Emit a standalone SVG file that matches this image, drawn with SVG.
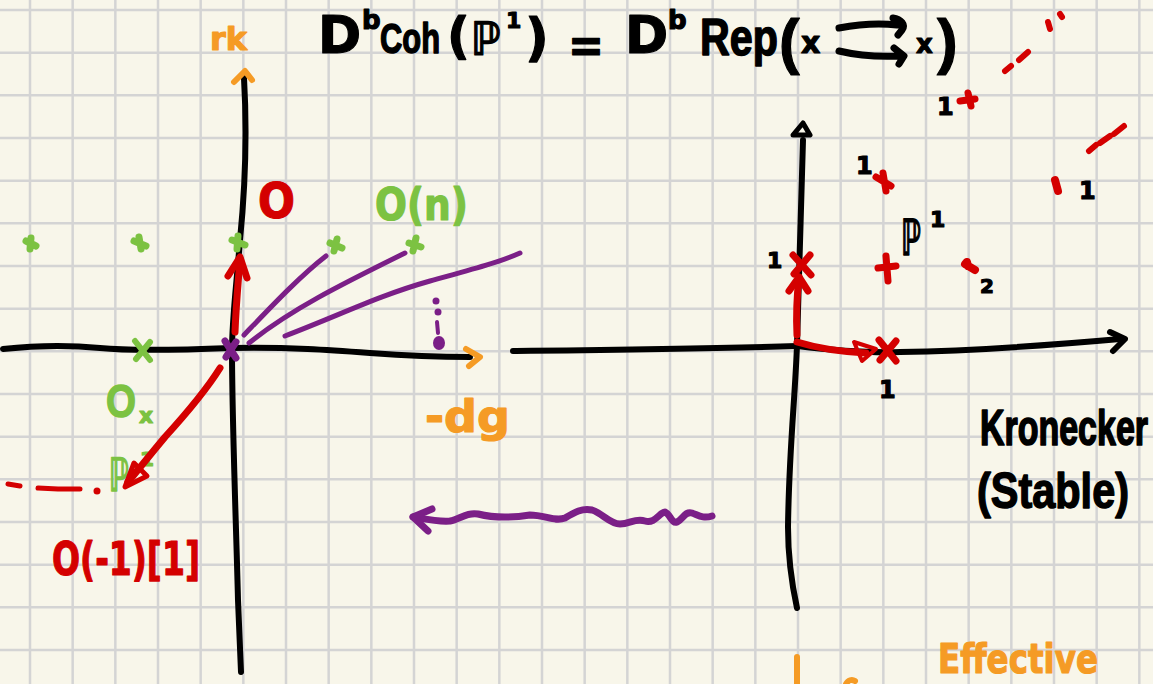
<svg xmlns="http://www.w3.org/2000/svg" width="1153" height="684" viewBox="0 0 1153 684">
<style>
.bg{fill:#f8f6ea}
.grid{stroke:#d4d4d4;stroke-width:2.5;fill:none}
.s{fill:none;stroke-linecap:round;stroke-linejoin:round}
.k{stroke:#000}
.r{stroke:#d40000}
.g{stroke:#7cc242}
.p{stroke:#7b1f87}
.o{stroke:#f59b25}
.t{font-family:"DejaVu Sans","Liberation Sans",sans-serif;font-weight:bold;stroke-linejoin:round;stroke-width:1.2}
.l{font-family:"Liberation Sans","DejaVu Sans",sans-serif}
.tk{fill:#000;stroke:#000}
.tr{fill:#d40000;stroke:#d40000}
.tg{fill:#7cc242;stroke:#7cc242}
.to{fill:#f59b25;stroke:#f59b25}
</style>
<rect class="bg" x="0" y="0" width="1153" height="684"/>
<path class="grid" d="M30 0V684M72.67 0V684M115.33 0V684M158 0V684M200.67 0V684M243.33 0V684M286 0V684M328.67 0V684M371.33 0V684M414 0V684M456.67 0V684M499.33 0V684M542 0V684M584.67 0V684M627.33 0V684M670 0V684M712.67 0V684M755.33 0V684M798 0V684M840.67 0V684M883.33 0V684M926 0V684M968.67 0V684M1011.33 0V684M1054 0V684M1096.67 0V684M1139.33 0V684M0 10H1153M0 52.67H1153M0 95.33H1153M0 138H1153M0 180.67H1153M0 223.33H1153M0 266H1153M0 308.67H1153M0 351.33H1153M0 394H1153M0 436.67H1153M0 479.33H1153M0 522H1153M0 564.67H1153M0 607.33H1153M0 650H1153"/>

<g id="title">
<text class="t tk" x="318" y="53" font-size="52">D</text>
<text class="t tk" x="362" y="29" font-size="26">b</text>
<text class="t l tk" transform="translate(380,53) scale(1,1.25)" x="0" y="0" font-size="34" textLength="60" lengthAdjust="spacingAndGlyphs">Coh</text>
<text class="t tk" x="447" y="53" font-size="50">(</text>
<text class="t tk" x="471" y="55" font-size="46" textLength="30" lengthAdjust="spacingAndGlyphs">ℙ</text>
<text class="t tk" x="506" y="28" font-size="22">1</text>
<text class="t tk" x="525" y="55" font-size="52">)</text>
<text class="t tk" x="568" y="62" font-size="48" textLength="36" lengthAdjust="spacingAndGlyphs">=</text>
<text class="t tk" x="625" y="53" font-size="52">D</text>
<text class="t tk" x="668" y="29" font-size="26">b</text>
<text class="t l tk" transform="translate(700,55) scale(1,1.25)" x="0" y="0" font-size="42" textLength="78" lengthAdjust="spacingAndGlyphs">Rep</text>
<text class="t l tk" x="779" y="62" font-size="62">(</text>
<text class="t tk" x="801" y="53" font-size="30">x</text>
<path class="s k" stroke-width="7" d="M839,28 C860,24 880,23 897,25 M893,18 C901,19 906,25 902,30 L898,35 M839,51 C860,56 880,57 900,56 M894,48 L904,56 L899,64"/>
<text class="t tk" x="916" y="53" font-size="26">x</text>
<text class="t l tk" x="937" y="62" font-size="62">)</text>
</g>

<g id="left-axes">
<path class="s k" stroke-width="6" d="M3,349 C30,346 60,344 100,348 C130,351 180,350 231,348 C290,347 330,350 370,353 C410,356 440,357 470,357"/>
<path class="s k" stroke-width="6" d="M244,78 C247,130 246,180 240,240 C236,290 232,320 232,350 C232,420 236,520 238,600 L241,672"/>
<path class="s o" stroke-width="6" d="M466,349 L480,357 L469,366"/>
<path class="s o" stroke-width="6" d="M234,82 L245,71 L252,80"/>
<text class="t to" x="210" y="50" font-size="32" textLength="37" lengthAdjust="spacingAndGlyphs">rk</text>
<text class="t to" x="425" y="432" font-size="44" textLength="85" lengthAdjust="spacingAndGlyphs">-dg</text>
</g>

<g id="left-points">
<path class="s g" stroke-width="7" d="M26,241 L36,246 M31,238 L30,249"/>
<path class="s g" stroke-width="7" d="M134,241 L146,246 M139,237 L141,249"/>
<path class="s g" stroke-width="7" d="M232,240 L245,245 M238,236 L237,249"/>
<path class="s g" stroke-width="7" d="M330,243 L342,248 M337,239 L334,251"/>
<path class="s g" stroke-width="7" d="M409,243 L421,247 M416,238 L413,251"/>
<path class="s g" stroke-width="6" d="M135,341 L150,360 M150,342 L136,359"/>
<path class="s p" stroke-width="7" d="M225,341 L236,358 M236,342 L226,357"/>
<circle cx="436" cy="301" r="3.5" fill="#7b1f87"/>
<circle cx="438" cy="312" r="3.5" fill="#7b1f87"/>
<path class="s p" stroke-width="4" d="M437,322 L438,333"/>
<ellipse cx="439" cy="343" rx="6" ry="7" fill="#7b1f87"/>
<path class="s r" stroke-width="5" d="M8,484 L20,486 M38,488 L58,489 L80,489"/>
<circle cx="97" cy="491" r="3.5" fill="#d40000"/>
</g>

<g id="left-labels">
<text class="t tr" x="258" y="218" font-size="50" textLength="37" lengthAdjust="spacingAndGlyphs">O</text>
<text class="t tg" x="375" y="220" font-size="44" textLength="93" lengthAdjust="spacingAndGlyphs">O(n)</text>
<text class="t l tg" transform="translate(106,417) scale(1,1.15)" x="0" y="0" font-size="40" textLength="30" lengthAdjust="spacingAndGlyphs">O</text>
<text class="t tg" x="139" y="423" font-size="22">x</text>
<text class="t tg" transform="translate(109,491) scale(1,1.15)" x="0" y="0" font-size="40" textLength="20" lengthAdjust="spacingAndGlyphs">ℙ</text>
<text class="t tg" x="140" y="466" font-size="20">1</text>
<text class="t tr" x="52" y="575" font-size="46" textLength="148" lengthAdjust="spacingAndGlyphs">O(-1)[1]</text>
</g>

<g id="right-axes">
<path class="s k" stroke-width="6" d="M513,351 C600,350 700,349 797,346"/>
<path class="s k" stroke-width="6" d="M797,346 C830,350 870,353 900,352 C960,351 1030,347 1120,339"/>
<path class="s k" stroke-width="6" d="M1110,332 L1125,339 L1113,351"/>
<path class="s k" stroke-width="6" d="M803,140 C801,220 799,290 797,345 C795,400 789,450 788,527 C788,560 792,585 797,608"/>
<path class="s k" stroke-width="5" d="M793,135 L803,123 L810,135 Z"/>
<path class="s o" stroke-width="6" d="M797,657 L797,684 M846,684 C848,680 852,679 855,681"/>
</g>

<g id="right-points">
<path class="s r" stroke-width="7" d="M793,255 L811,275 M810,255 L794,274"/>
<path class="s r" stroke-width="7" d="M879,340 L896,361 M896,341 L880,360"/>
<path class="s r" stroke-width="7" d="M878,268 L896,266 M886,256 L888,281"/>
<path class="s r" stroke-width="8" d="M965,264 L975,270 M967,262 L968,266"/>
<path class="s r" stroke-width="7" d="M876,177 L891,186 M883,173 L886,191"/>
<path class="s r" stroke-width="7" d="M960,101 L975,99 M968,93 L971,106"/>
<path class="s r" stroke-width="8" d="M1055,180 L1058,191"/>
<path class="s r" stroke-width="6" d="M1005,71 L1011,66 M1019,60 L1028,52 M1048,22 L1050,29 M1060,14 L1062,17"/>
<path class="s r" stroke-width="6" d="M1089,151 L1096,145 M1100,143 L1110,136 M1114,134 L1124,126"/>
</g>

<g id="right-labels">
<text class="t tk" x="767" y="268" font-size="22">1</text>
<text class="t tk" x="879" y="398" font-size="24">1</text>
<text class="t tk" x="856" y="174" font-size="24">1</text>
<text class="t tk" x="937" y="115" font-size="24">1</text>
<text class="t tk" x="1079" y="199" font-size="24">1</text>
<text class="t tk" x="980" y="293" font-size="20">2</text>
<text class="t tk" transform="translate(901,255) scale(1,1.25)" x="0" y="0" font-size="40" textLength="20" lengthAdjust="spacingAndGlyphs">ℙ</text>
<text class="t tk" x="930" y="227" font-size="22">1</text>
<text class="t l tk" transform="translate(980,445) scale(1,1.45)" x="0" y="0" font-size="34" textLength="168" lengthAdjust="spacingAndGlyphs">Kronecker</text>
<text class="t l tk" transform="translate(977,508) scale(1,1.2)" x="0" y="0" font-size="41" textLength="152" lengthAdjust="spacingAndGlyphs">(Stable)</text>
<text class="t to" x="938" y="673" font-size="40" textLength="160" lengthAdjust="spacingAndGlyphs">Effective</text>
</g>

<g id="connectors">
<path class="s r" stroke-width="7" d="M235,332 C236,305 238,285 240,259"/>
<path class="s r" stroke-width="7" d="M228,276 L240,257 L247,278"/>
<path class="s r" stroke-width="7" d="M220,368 C205,392 185,415 165,437 C150,455 138,470 128,482"/>
<path class="s r" stroke-width="5" fill="#d40000" d="M125,487 L134,463 L147,476 Z"/>
<path class="s p" stroke-width="5" d="M244,335 C270,308 300,276 326,256"/>
<path class="s p" stroke-width="5" d="M249,343 C290,310 340,285 405,253"/>
<path class="s p" stroke-width="5" d="M285,336 C340,315 380,295 430,281 C470,270 500,262 520,253"/>
<path class="s p" stroke-width="7" d="M413,517 C425,519 438,522 450,521 C460,519 467,512 478,514 C490,517 505,519 530,515 C545,515 555,522 565,518 C575,512 582,508 592,510 C602,513 610,524 620,524 C630,524 635,518 645,521 C655,524 660,512 665,512 C670,514 672,524 677,522 C683,519 685,511 692,513 C698,515 703,519 712,516"/>
<path class="s p" stroke-width="7" fill="#7b1f87" d="M432,509 L413,517 L428,531"/>
<path class="s r" stroke-width="7" d="M797,335 C796,315 797,295 799,277"/>
<path class="s r" stroke-width="7" d="M789,291 L799,277 L808,291"/>
<path class="s r" stroke-width="7" d="M797,342 C820,349 845,352 866,353"/>
<path class="s r" stroke-width="4" fill="#d40000" d="M854,342 L876,349 L862,361 Z"/>
</g>
</svg>
